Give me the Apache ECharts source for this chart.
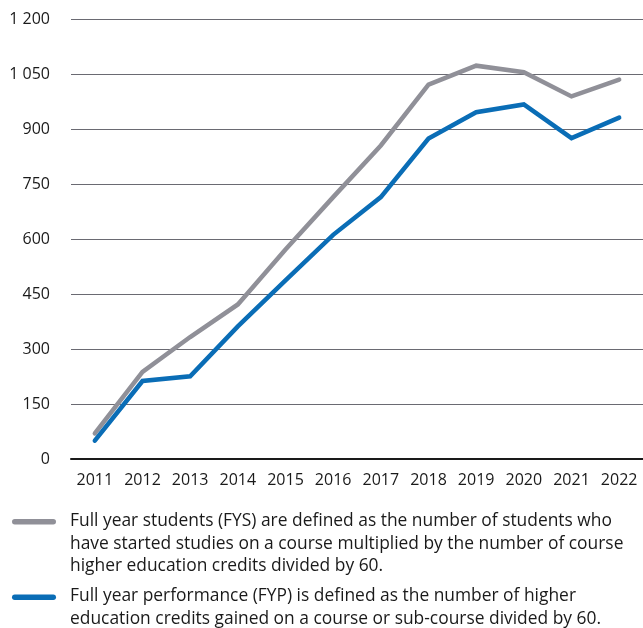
<!DOCTYPE html>
<html>
<head>
<meta charset="utf-8">
<script src="https://cdn.jsdelivr.net/npm/echarts@6/dist/echarts.min.js"></script>
<style>
  html, body { margin: 0; padding: 0; background: #fff; }
  #chart { width: 643px; height: 628px; }
</style>
</head>
<body>
<div id="chart"></div>
<script>
// Years on the horizontal axis
const years = ['2011', '2012', '2013', '2014', '2015', '2016', '2017', '2018', '2019', '2020', '2021', '2022'];
// Full year students (FYS)
const fysValues = [70, 238, 333, 422, 572, 715, 856, 1022, 1074, 1056, 990, 1036];
// Full year performance (FYP)
const fypValues = [50, 213, 226, 362, 488, 612, 715, 875, 947, 968, 876, 932];
// Value axis ticks
const yTicks = [0, 150, 300, 450, 600, 750, 900, 1050, 1200];

const legendTexts = [
  'Full year students (FYS) are defined as the number of students who\nhave started studies on a course multiplied by the number of course\nhigher education credits divided by 60.',
  'Full year performance (FYP) is defined as the number of higher\neducation credits gained on a course or sub-course divided by 60.'
];

const FONT = '"Open Sans", "Noto Sans", sans-serif';
const GREY = '#909098';
const BLUE = '#0a6db6';

function fmtThousands(v) {
  const s = String(v);
  return s.length > 3 ? s.slice(0, s.length - 3) + ' ' + s.slice(-3) : s;
}

const chart = echarts.init(document.getElementById('chart'), null, { renderer: 'canvas' });

chart.setOption({
  animation: false,
  backgroundColor: '#ffffff',
  grid: { left: 71, right: -6, top: 19.5, bottom: 169, containLabel: false },
  xAxis: {
    type: 'category',
    data: years,
    boundaryGap: true,
    axisLine: { show: true, lineStyle: { color: '#1a1a1a', width: 2 } },
    axisTick: { show: false },
    axisLabel: { color: '#1a1a1a', fontFamily: FONT, fontSize: 16, margin: 13 },
    splitLine: { show: false }
  },
  yAxis: {
    type: 'value',
    min: yTicks[0],
    max: yTicks[yTicks.length - 1],
    interval: yTicks[1] - yTicks[0],
    axisLine: { show: false },
    axisTick: { show: false },
    axisLabel: {
      color: '#1a1a1a', fontFamily: FONT, fontSize: 16, margin: 21,
      formatter: v => fmtThousands(v)
    },
    splitLine: { show: true, lineStyle: { color: '#6a6a72', width: 1.2 } }
  },
  series: [
    {
      name: 'FYS', type: 'line', data: fysValues, symbol: 'none',
      lineStyle: { color: GREY, width: 4.5, cap: 'round', join: 'miter' },
      itemStyle: { color: GREY }, z: 3
    },
    {
      name: 'FYP', type: 'line', data: fypValues, symbol: 'none',
      lineStyle: { color: BLUE, width: 4.5, cap: 'round', join: 'miter' },
      itemStyle: { color: BLUE }, z: 4
    }
  ],
  graphic: [
    { type: 'rect', left: 12, top: 519, shape: { width: 44, height: 5.5, r: 2.75 }, style: { fill: GREY } },
    { type: 'text', left: 70, top: 510, style: { text: legendTexts[0], fill: '#1a1a1a', font: '17.4px ' + FONT, lineHeight: 22.5 } },
    { type: 'rect', left: 12, top: 594.5, shape: { width: 44, height: 5.5, r: 2.75 }, style: { fill: BLUE } },
    { type: 'text', left: 70, top: 585, style: { text: legendTexts[1], fill: '#1a1a1a', font: '17.4px ' + FONT, lineHeight: 22.5 } }
  ]
});
</script>
</body>
</html>
